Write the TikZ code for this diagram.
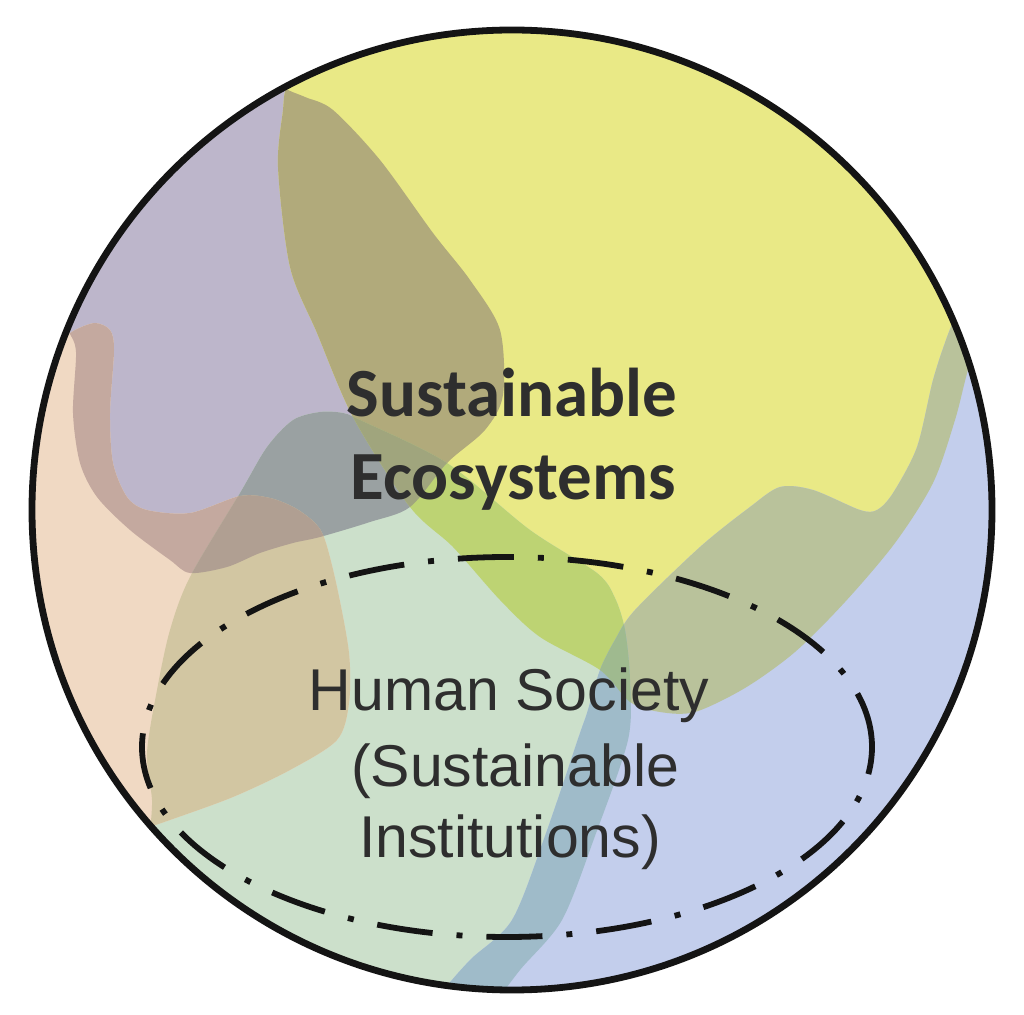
\documentclass[tikz,border=0pt]{standalone}
\usepackage{fontspec}
\newfontfamily\calib{Carlito}
\newfontfamily\arialf{Liberation Sans}
\definecolor{cP}{HTML}{F0D9C3}
\definecolor{cL}{HTML}{BDB6CB}
\definecolor{cY}{HTML}{E9E986}
\definecolor{cG}{HTML}{CCE0CB}
\definecolor{cB}{HTML}{C3CEEC}
\definecolor{cLP}{HTML}{C4A99F}
\definecolor{cYL}{HTML}{B1AA7B}
\definecolor{cLG}{HTML}{9AA1A2}
\definecolor{cPG}{HTML}{D2C6A2}
\definecolor{cYG}{HTML}{BDD373}
\definecolor{cYB}{HTML}{B9C29B}
\definecolor{cBG}{HTML}{9FBBC9}
\definecolor{cLPG}{HTML}{B09F92}
\definecolor{cYLG}{HTML}{A0A57D}
\definecolor{cYBG}{HTML}{9FBA8F}
\definecolor{cT}{HTML}{2E2E2E}
\newcommand\Ypath{(296,0) -- plot[smooth] coordinates {(293,70) (285,92) (283,110) (278,167) (290,267) (317,333) (353,417) (410,507) (453,547) (500,600) (540,637) (600,670) (630,702) (660,712) (695,712) (745,688) (795,652) (845,602) (895,543) (933,483) (955,420) (968,370) (985,320)} -- (1050,300) -- (1050,0) -- cycle}
\newcommand\Lpath{(0,0) -- (0,318) -- plot[smooth] coordinates {(62,318) (69,332) (76,352) (73,413) (80,463) (97,497) (130,530) (170,560) (190,573) (227,567) (260,553) (293,543) (320,537) (370,522) (410,507) (447,463) (485,430) (503,395) (500,330) (470,280) (433,233) (380,160) (333,110) (305,97) (285,88) (270,70)} -- (270,0) -- cycle}
\newcommand\Ppath{(0,342) -- plot[smooth] coordinates {(58,342) (75,330) (95,323) (110,330) (114,350) (110,413) (113,463) (127,497) (147,510) (190,513) (240,496) (270,498) (295,508) (315,523) (325,540) (337,587) (349,653) (349,703) (337,740) (290,770) (233,797) (170,820) (140,830)} -- (0,850) -- cycle}
\newcommand\Gpath{(60,900) -- plot[smooth] coordinates {(150,830) (152,800) (147,753) (157,690) (170,630) (190,577) (240,493) (267,447) (293,420) (320,412) (343,413) (360,420) (447,463) (530,530) (597,573) (615,598) (625,630) (630,680) (628,740) (595,836) (562,920) (520,970) (490,1010)} -- (60,1010) -- cycle}
\newcommand\Bpath{(1050,280) -- plot[smooth] coordinates {(960,305) (947,337) (933,380) (917,447) (893,493) (877,510) (860,510) (813,490) (780,487) (750,507) (700,547) (635,610) (615,640) (600,670) (587,713) (579,736) (545,836) (512,920) (470,960) (440,995) (420,1030)} -- (1050,1050) -- cycle}
\tikzset{
  outline/.style={draw=black!92, line width=3.4pt},
  dashring/.style={draw=black!92, line width=2.9pt, dash pattern=on 28pt off 12pt on 3pt off 12pt},
  bigtxt/.style={anchor=base, text=cT, font=\calib\bfseries\fontsize{34.5}{40}\selectfont},
  smalltxt/.style={anchor=base, text=cT, font=\arialf\fontsize{29.5}{36}\selectfont}
}
\begin{document}
\begin{tikzpicture}[x=0.5pt, y=-0.5pt]
\useasboundingbox (0,0) rectangle (1024,1015);
\fill[white] (0,0) rectangle (1024,1015);
\begin{scope}
  \clip (512,510) circle[radius=240pt];
  \fill[cP] (0,0) rectangle (1024,1015);
  \fill[cL] \Lpath;
  \fill[cY] \Ypath;
  \fill[cG] \Gpath;
  \fill[cB] \Bpath;
  \fill[cP] \Ppath;
  \begin{scope}\clip \Lpath; \fill[cLP] \Ppath; \end{scope}
  \begin{scope}\clip \Ypath; \fill[cYL] \Lpath; \end{scope}
  \begin{scope}\clip \Lpath; \fill[cLG] \Gpath; \end{scope}
  \begin{scope}\clip \Ppath; \fill[cPG] \Gpath; \end{scope}
  \begin{scope}\clip \Ypath; \fill[cYG] \Gpath; \end{scope}
  \begin{scope}\clip \Ypath; \fill[cYB] \Bpath; \end{scope}
  \begin{scope}\clip \Bpath; \fill[cBG] \Gpath; \end{scope}
  \begin{scope}\clip \Lpath; \clip \Ppath; \fill[cLPG] \Gpath; \end{scope}
  \begin{scope}\clip \Ypath; \clip \Lpath; \fill[cYLG] \Gpath; \end{scope}
  \begin{scope}\clip \Ypath; \clip \Bpath; \fill[cYBG] \Gpath; \end{scope}
\end{scope}
\draw[outline] (512,510) circle[radius=240pt];
\draw[dashring] (507,747) ellipse[x radius=182.5pt, y radius=95pt];
\node[bigtxt] (s1) at (512,417) {Sustainable};
\node[bigtxt] (s2) at (513,500) {Ecosystems};
\node[smalltxt] (h1) at (509,711) {Human Society};
\node[smalltxt] (h2) at (515,787) {(Sustainable};
\node[smalltxt] (h3) at (510,858) {Institutions)};
\end{tikzpicture}
\end{document}
